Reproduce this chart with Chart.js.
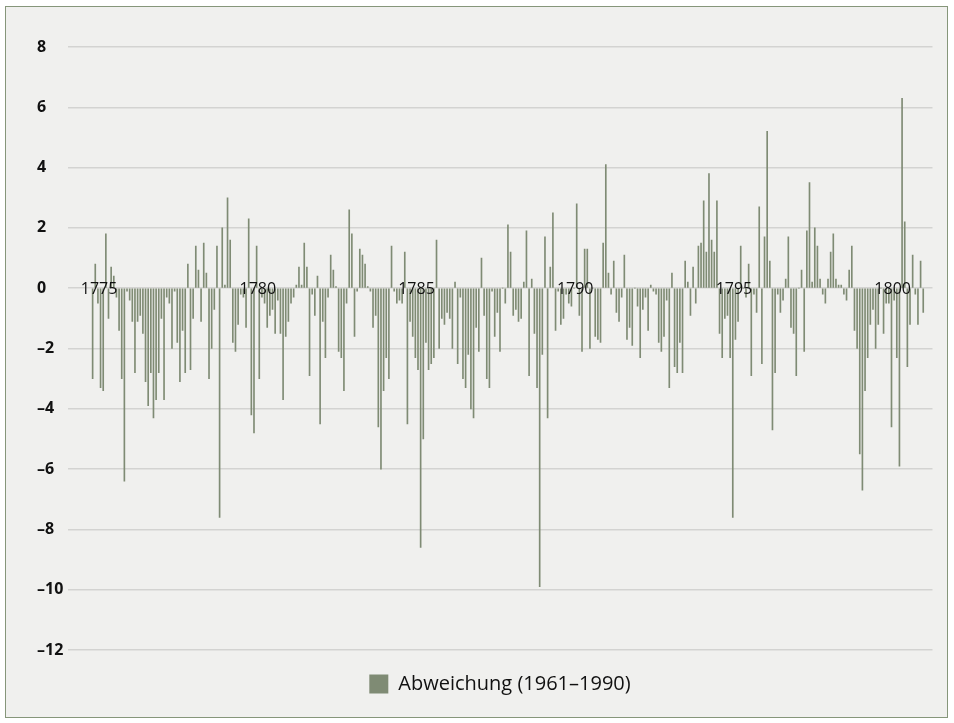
<!DOCTYPE html>
<html lang="de">
<head>
<meta charset="utf-8">
<title>Abweichung (1961–1990)</title>
<script src="https://cdn.jsdelivr.net/npm/chart.js@4/dist/chart.umd.min.js"></script>
<style>
  html, body { margin: 0; padding: 0; background: #ffffff; }
  body { width: 954px; height: 723px; position: relative; overflow: hidden; }
  #frame {
    position: absolute; left: 5px; top: 6px; width: 941px; height: 710px;
    border: 1px solid #86967a; background: #f0f0ee;
  }
  #chart { position: absolute; left: 0; top: 0; }
</style>
</head>
<body>
<div id="frame"></div>
<canvas id="chart" width="954" height="723"></canvas>
<script>
/* Monthly temperature anomaly vs. 1961–1990, Oct 1774 – Dec 1800 */

/* ── Data ─────────────────────────────────────────────────────────────── */

var axisStartYear = 1774;      // category axis runs Jan 1774 …
var axisMonths    = 327;       // … to Mar 1801
var firstDataIdx  = 9;         // first value = Oct 1774

var seriesLabel = 'Abweichung (1961–1990)';

var abweichung = [
  /* 1774 Oct–Dec */ -3.0, 0.8, -0.5,
  /* 1775 */ -3.3, -3.4, 1.8, -1.0, 0.7, 0.4, -0.3, -1.4, -3.0, -6.4, -0.1, -0.4,
  /* 1776 */ -1.1, -2.8, -1.1, -0.9, -1.5, -3.1, -3.9, -2.8, -4.3, -3.7, -2.8, -1.0,
  /* 1777 */ -3.7, -0.3, -0.5, -2.0, -0.1, -1.8, -3.1, -1.4, -2.8, 0.8, -2.7, -1.0,
  /* 1778 */ 1.4, 0.6, -1.1, 1.5, 0.5, -3.0, -2.0, -0.7, 1.4, -7.6, 2.0, 0.1,
  /* 1779 */ 3.0, 1.6, -1.8, -2.1, -1.2, -0.2, -0.3, -1.3, 2.3, -4.2, -4.8, 1.4,
  /* 1780 */ -3.0, -0.3, -0.5, -1.3, -0.9, -0.7, -1.5, -0.4, -1.5, -3.7, -1.6, -1.1,
  /* 1781 */ -0.5, -0.3, 0.1, 0.7, 0.1, 1.5, 0.7, -2.9, -0.2, -0.9, 0.4, -4.5,
  /* 1782 */ -1.1, -2.3, -0.3, 1.1, 0.6, 0.05, -2.1, -2.3, -3.4, -0.5, 2.6, 1.8,
  /* 1783 */ -1.6, -0.1, 1.3, 1.1, 0.8, 0.05, -0.1, -1.3, -0.9, -4.6, -6.0, -3.4,
  /* 1784 */ -2.3, -3.0, 1.4, -0.1, -0.5, -0.4, -0.5, 1.2, -4.5, -1.1, -1.6, -2.3,
  /* 1785 */ -2.7, -8.6, -5.0, -1.8, -2.7, -2.5, -2.3, 1.6, -2.0, -1.0, -1.2, -0.8,
  /* 1786 */ -1.0, -2.0, 0.2, -2.5, -0.3, -3.0, -3.3, -2.2, -4.0, -4.3, -1.3, -2.1,
  /* 1787 */ 1.0, -0.9, -3.0, -3.3, -0.1, -1.6, -0.8, -2.1, 0.0, -0.5, 2.1, 1.2,
  /* 1788 */ -0.9, -0.7, -1.1, -1.0, 0.2, 1.9, -2.9, 0.3, -1.5, -3.3, -9.9, -2.2,
  /* 1789 */ 1.7, -4.3, 0.7, 2.5, -1.4, -0.1, -1.2, -1.0, -0.2, -0.5, -0.6, 0.0,
  /* 1790 */ 2.8, -0.9, -2.1, 1.3, 1.3, -2.0, 0.0, -1.6, -1.7, -1.8, 1.5, 4.1,
  /* 1791 */ 0.5, -0.2, 0.9, -0.8, -1.1, -0.3, 1.1, -1.7, -1.3, -1.9, 0.0, -0.6,
  /* 1792 */ -2.3, -0.7, -0.3, -1.4, 0.1, -0.1, -0.2, -1.8, -2.1, -1.6, -0.4, -3.3,
  /* 1793 */ 0.5, -2.6, -2.8, -1.8, -2.8, 0.9, 0.2, -0.9, 0.7, -0.5, 1.4, 1.5,
  /* 1794 */ 2.9, 1.2, 3.8, 1.6, 1.2, 2.9, -1.5, -2.3, -1.0, -0.9, -2.3, -7.6,
  /* 1795 */ -1.7, -1.1, 1.4, 0.0, -0.3, 0.8, -2.9, -0.2, -0.8, 2.7, -2.5, 1.7,
  /* 1796 */ 5.2, 0.9, -4.7, -2.8, -0.2, -0.8, -0.4, 0.3, 1.7, -1.3, -1.5, -2.9,
  /* 1797 */ 0.0, 0.6, -2.1, 1.9, 3.5, 0.2, 2.0, 1.4, 0.3, -0.2, -0.5, 0.3,
  /* 1798 */ 1.2, 1.8, 0.3, 0.1, 0.1, -0.2, -0.4, 0.6, 1.4, -1.4, -2.0, -5.5,
  /* 1799 */ -6.7, -3.4, -2.3, -1.2, -0.7, -2.0, -1.2, 0.0, -1.5, -0.5, -0.5, -4.6,
  /* 1800 */ -0.4, -2.3, -5.9, 6.3, 2.2, -2.6, -1.2, 1.1, -0.2, -1.2, 0.9, -0.8
];

var yearTicks = [1775, 1780, 1785, 1790, 1795, 1800];
var yTicks    = [8, 6, 4, 2, 0, -2, -4, -6, -8, -10, -12];

/* ── Build category axis + padded series ──────────────────────────────── */

var months = [];
for (var m = 0; m < axisMonths; m++) {
  var y = axisStartYear + Math.floor(m / 12);
  months.push(y + '-' + String(m % 12 + 1).padStart(2, '0'));
}

var series = months.map(function (_, i) {
  var k = i - firstDataIdx;
  return (k >= 0 && k < abweichung.length) ? abweichung[k] : null;
});

/* ── Year labels drawn on the zero line ───────────────────────────────── */

var yearLabels = {
  id: 'yearLabels',
  afterDatasetsDraw: function (chart) {
    var ctx = chart.ctx;
    var xs  = chart.scales.x;
    var ys  = chart.scales.y;
    var y0  = ys.getPixelForValue(0);
    ctx.save();
    ctx.font = '16px "Open Sans", sans-serif';
    ctx.fillStyle = '#111111';
    ctx.textAlign = 'center';
    ctx.textBaseline = 'middle';
    yearTicks.forEach(function (yr) {
      var idx = months.indexOf(yr + '-01');
      ctx.fillText(String(yr), xs.getPixelForValue(idx) - 1.5, y0 + 1);
    });
    ctx.restore();
  }
};

/* ── Chart ────────────────────────────────────────────────────────────── */

new Chart(document.getElementById('chart'), {
  type: 'bar',
  data: {
    labels: months,
    datasets: [{
      label: seriesLabel,
      data: series,
      backgroundColor: '#7f8b74',
      borderWidth: 0,
      barThickness: 1
    }]
  },
  options: {
    responsive: false,
    animation: false,
    events: [],
    layout: { padding: { left: 37, right: 21.5, top: 47, bottom: 19 } },
    plugins: {
      legend: {
        position: 'bottom',
        fullSize: false,
        labels: {
          boxWidth: 19,
          boxHeight: 19,
          padding: 10,
          color: '#111111',
          font: { family: '"Open Sans", sans-serif', size: 20 }
        }
      },
      tooltip: { enabled: false }
    },
    scales: {
      x: {
        grid: { display: false },
        border: { display: false },
        ticks: { display: false },
        afterFit: function (s) { s.height = 14; }
      },
      y: {
        min: -12,
        max: 8,
        afterFit: function (s) { s.width = 30.5; },
        afterBuildTicks: function (s) {
          s.ticks = yTicks.map(function (v) { return { value: v }; });
        },
        grid: { color: '#d3d3d1', lineWidth: 1.5, drawTicks: false },
        border: { display: false },
        ticks: {
          crossAlign: 'far',
          padding: 0,
          color: '#111111',
          font: { family: '"Open Sans", sans-serif', size: 16, weight: 'bold' },
          callback: function (v) { return v < 0 ? '–' + Math.abs(v) : String(v); }
        }
      }
    }
  },
  plugins: [yearLabels]
});
</script>
</body>
</html>
